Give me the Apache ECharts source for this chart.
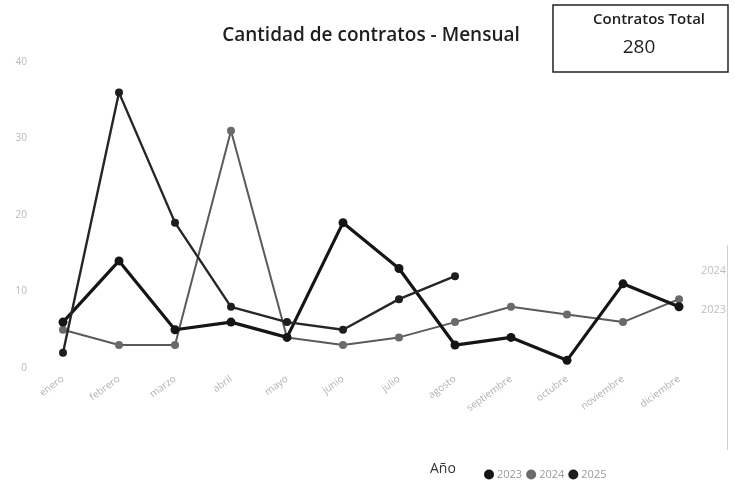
<!DOCTYPE html>
<html>
<head>
<meta charset="utf-8">
<script src="https://cdn.jsdelivr.net/npm/echarts@6/dist/echarts.min.js"></script>
<style>html,body{margin:0;padding:0;background:#fff;}#c{width:735px;height:487px;}</style>
</head>
<body>
<div id="c"></div>
<script>
const months = ['enero','febrero','marzo','abril','mayo','junio','julio','agosto','septiembre','octubre','noviembre','diciembre'];
const years = ['2023','2024','2025'];
const v2023 = [6,14,5,6,4,19,13,3,4,1,11,8];
const v2024 = [5,3,3,31,4,3,4,6,8,7,6,9];
const v2025 = [2,36,19,8,6,5,9,12];
const yTicks = [0,10,20,30,40];
const totalLabel = 'Contratos Total';
const totalValue = '280';
const titleText = 'Cantidad de contratos - Mensual';

const chart = echarts.init(document.getElementById('c'), null, {renderer:'canvas'});
const font = '"Open Sans", "Noto Sans", sans-serif';
chart.setOption({
  animation:false,
  backgroundColor:'#fff',
  textStyle:{fontFamily:font},
  grid:{left:63, right:56, top:62, bottom:119},
  xAxis:{type:'category', data:months, boundaryGap:false,
    axisLine:{show:false}, axisTick:{show:false},
    axisLabel:{rotate:36, color:'#b0b0b0', fontSize:10, margin:10, interval:0, fontFamily:font}},
  yAxis:{type:'value', min:yTicks[0], max:yTicks[yTicks.length-1], interval:10,
    splitLine:{show:false}, axisLine:{show:false}, axisTick:{show:false},
    axisLabel:{color:'#b8b8b8', fontSize:10, margin:36, fontFamily:font}},
  legend:{left:479, top:464, itemWidth:10, itemHeight:10, itemGap:4, icon:'circle',
    textStyle:{color:'#9a9a9a', fontSize:11, fontFamily:font, padding:[0,0,0,-2]},
    data:years},
  graphic:[
    {type:'text', x:371, y:26, style:{text:titleText, font:'600 19px '+font, fill:'#1e1e1e', align:'center'}, z:10},
    {type:'rect', shape:{x:553, y:5, width:175, height:67}, style:{fill:'#fff', stroke:'#222', lineWidth:1.5}, z:10},
    {type:'text', x:649, y:12, style:{text:totalLabel, font:'600 15px '+font, fill:'#1e1e1e', align:'center'}, z:11},
    {type:'text', x:639, y:38, style:{text:totalValue, font:'19px '+font, fill:'#1e1e1e', align:'center'}, z:11},
    {type:'text', x:430, y:462, style:{text:'Año', font:'14px '+font, fill:'#333'}, z:10},
    {type:'rect', shape:{x:728, y:240, width:7, height:215}, style:{fill:'#fff'}, z:20},
    {type:'line', shape:{x1:727.5, y1:245, x2:727.5, y2:450}, style:{stroke:'#d0d0d0', lineWidth:1}, z:21}
  ],
  series:[
    {name:'2023', type:'line', data:v2023, symbol:'circle', symbolSize:9,
      lineStyle:{color:'#151515', width:3.2}, itemStyle:{color:'#151515'}, z:3,
      endLabel:{show:true, formatter:'2023', color:'#c0c0c0', fontSize:11, distance:22, offset:[0,3]}},
    {name:'2024', type:'line', data:v2024, symbol:'circle', symbolSize:8,
      lineStyle:{color:'#5a5a5a', width:2}, itemStyle:{color:'#6a6a6a'}, z:2,
      endLabel:{show:true, formatter:'2024', color:'#c0c0c0', fontSize:11, distance:22, offset:[0,-28]}},
    {name:'2025', type:'line', data:v2025, symbol:'circle', symbolSize:8,
      lineStyle:{color:'#262626', width:2.4}, itemStyle:{color:'#1e1e1e'}, z:4}
  ]
});
</script>
</body>
</html>
